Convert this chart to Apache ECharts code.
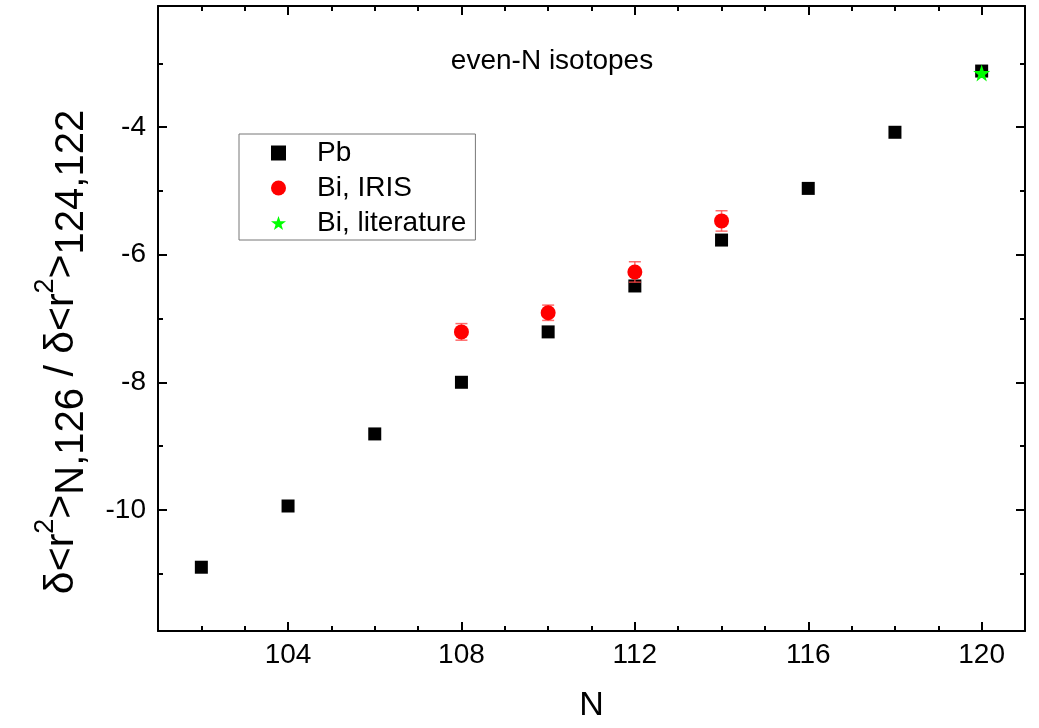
<!DOCTYPE html>
<html>
<head>
<meta charset="utf-8">
<script src="https://cdn.jsdelivr.net/npm/echarts@6/dist/echarts.min.js"></script>
<style>html,body{margin:0;padding:0;background:#fff;}#c{width:1039px;height:728px;}</style>
</head>
<body>
<div id="c"></div>
<script>
// ---- data ----
const nPb = [102, 104, 106, 108, 110, 112, 114, 116, 118, 120];
const pbValues = [-10.90, -9.94, -8.81, -8.00, -7.21, -6.49, -5.77, -4.96, -4.08, -3.12];
const nBiIris = [108, 110, 112, 114];
const biIrisValues = [-7.21, -6.91, -6.27, -5.47];
const biIrisErrors = [0.13, 0.12, 0.16, 0.16];
const nBiLit = [120];
const biLitValues = [-3.15];
const xMajorTicks = [104, 108, 112, 116, 120];
const xMinorTicks = [102, 103, 105, 106, 107, 109, 110, 111, 113, 114, 115, 117, 118, 119];
const yMajorTicks = [-10, -8, -6, -4];
const yMinorTicks = [-11, -9, -7, -5, -3];
const seriesNames = ['Pb', 'Bi, IRIS', 'Bi, literature'];

const FONT = '"Liberation Sans", Arial, sans-serif';
const STAR = 'path://M50,0 L61.8,35.1 L98.1,35.1 L68.8,56.7 L79.4,91.3 L50,70 L20.6,91.3 L31.2,56.7 L1.9,35.1 L38.2,35.1 Z';

const chart = echarts.init(document.getElementById('c'), null, {renderer: 'canvas'});

function xAx(pos, major, labels) {
  return {
    type: 'value', min: 101, max: 121, position: pos,
    axisLine: {show: major, lineStyle: {color: '#000', width: 2}},
    axisTick: {show: true, inside: true, length: major ? 9 : 5,
      customValues: major ? xMajorTicks : xMinorTicks,
      lineStyle: {color: '#000', width: 2}},
    axisLabel: {show: labels, customValues: xMajorTicks, color: '#000', fontSize: 28,
      fontFamily: FONT, margin: 10},
    splitLine: {show: false}
  };
}
function yAx(pos, major, labels) {
  return {
    type: 'value', min: -11.9, max: -2.1, position: pos,
    axisLine: {show: major, lineStyle: {color: '#000', width: 2}},
    axisTick: {show: true, inside: true, length: major ? 9 : 5,
      customValues: major ? yMajorTicks : yMinorTicks,
      lineStyle: {color: '#000', width: 2}},
    axisLabel: {show: labels, customValues: yMajorTicks, color: '#000', fontSize: 28,
      fontFamily: FONT, margin: 12},
    splitLine: {show: false}
  };
}

const option = {
  backgroundColor: '#fff',
  animation: false,
  grid: {left: 158, right: 14, top: 6, bottom: 96, containLabel: false},
  xAxis: [
    Object.assign(xAx('bottom', true, true), {name: 'N', nameLocation: 'middle', nameGap: 58,
      nameTextStyle: {fontSize: 34, color: '#000', fontFamily: FONT}}),
    xAx('bottom', false, false),
    xAx('top', true, false),
    xAx('top', false, false)
  ],
  yAxis: [
    yAx('left', true, true),
    yAx('left', false, false),
    yAx('right', true, false),
    yAx('right', false, false)
  ],
  legend: {
    orient: 'vertical', left: 239, top: 134,
    data: seriesNames,
    itemWidth: 15, itemHeight: 15, itemGap: 5,
    padding: [4, 9, 2, 32],
    borderColor: '#777', borderWidth: 1,
    textStyle: {fontSize: 28, color: '#000', fontFamily: FONT, lineHeight: 30,
      rich: {t: {fontSize: 28, fontFamily: FONT, lineHeight: 30, padding: [0, 0, 0, 26], color: '#000'}}},
    formatter: name => '{t|' + name + '}'
  },
  graphic: [
    {type: 'text', x: 552, y: 61,
      style: {text: 'even-N isotopes', font: '28px ' + FONT, fill: '#000', textAlign: 'center', textVerticalAlign: 'middle'}},
    {type: 'text', x: 62, y: 352, rotation: Math.PI / 2,
      style: {
        text: '{b|δ<r}{sup|2}{b|>}{sub|N,126}{b| / δ<r}{sup|2}{b|>}{sub|124,122}',
        textAlign: 'center', textVerticalAlign: 'middle', fill: '#000',
        rich: {
          b: {fontSize: 41, fontFamily: FONT, lineHeight: 60, verticalAlign: 'middle', fill: '#000'},
          sup: {fontSize: 27, fontFamily: FONT, lineHeight: 27, verticalAlign: 'top', fill: '#000'},
          sub: {fontSize: 40, fontFamily: FONT, lineHeight: 40, verticalAlign: 'bottom', fill: '#000'}
        }
      }}
  ],
  series: [
    {name: 'Pb', type: 'scatter', xAxisIndex: 0, yAxisIndex: 0,
      symbol: 'rect', symbolSize: 13, itemStyle: {color: '#000', opacity: 1},
      data: nPb.map((n, i) => [n, pbValues[i]]), z: 2},
    {name: 'Bi, IRIS err', type: 'custom', xAxisIndex: 0, yAxisIndex: 0, z: 3,
      data: nBiIris.map((n, i) => [n, biIrisValues[i] - biIrisErrors[i], biIrisValues[i] + biIrisErrors[i]]),
      renderItem: function (params, api) {
        const lo = api.coord([api.value(0), api.value(1)]);
        const hi = api.coord([api.value(0), api.value(2)]);
        const w = 6;
        const st = {stroke: 'rgba(255,70,70,0.8)', lineWidth: 1.5};
        return {type: 'group', children: [
          {type: 'line', shape: {x1: lo[0], y1: lo[1], x2: hi[0], y2: hi[1]}, style: st},
          {type: 'line', shape: {x1: lo[0] - w, y1: lo[1], x2: lo[0] + w, y2: lo[1]}, style: st},
          {type: 'line', shape: {x1: hi[0] - w, y1: hi[1], x2: hi[0] + w, y2: hi[1]}, style: st}
        ]};
      }},
    {name: 'Bi, IRIS', type: 'scatter', xAxisIndex: 0, yAxisIndex: 0,
      symbol: 'circle', symbolSize: 15, itemStyle: {color: '#ff0000', opacity: 1},
      data: nBiIris.map((n, i) => [n, biIrisValues[i]]), z: 4},
    {name: 'Bi, literature', type: 'scatter', xAxisIndex: 0, yAxisIndex: 0,
      symbol: STAR, symbolSize: 17, itemStyle: {color: '#00ff00', opacity: 1},
      data: nBiLit.map((n, i) => [n, biLitValues[i]]), z: 5}
  ]
};
chart.setOption(option);
</script>
</body>
</html>
